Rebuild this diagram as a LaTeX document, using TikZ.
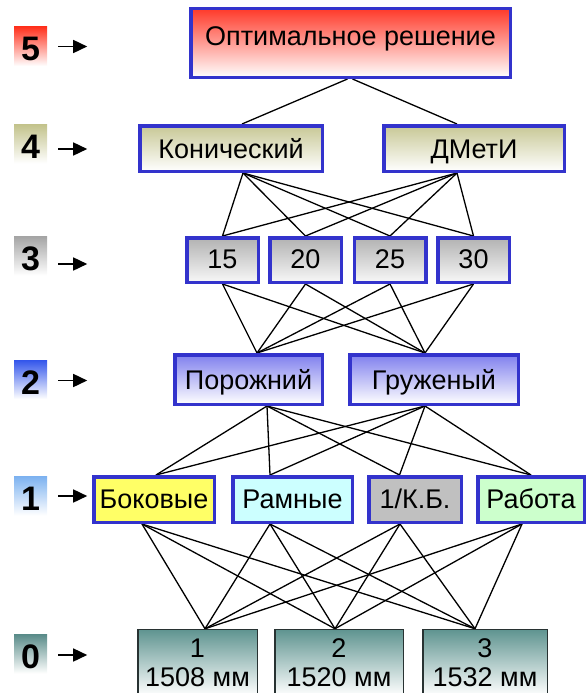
\documentclass[tikz,border=0pt]{standalone}
\usepackage{fontspec}
\setmainfont{Liberation Sans}
\usetikzlibrary{arrows.meta,backgrounds}
\definecolor{bord}{RGB}{51,51,204}
\definecolor{cfive}{RGB}{255,58,42}
\definecolor{cfour}{RGB}{200,200,150}
\definecolor{cthree}{RGB}{178,178,178}
\definecolor{ctwo}{RGB}{128,128,238}
\definecolor{czero}{RGB}{95,148,144}
\definecolor{lfive}{RGB}{255,50,30}
\definecolor{lfour}{RGB}{195,195,140}
\definecolor{lthree}{RGB}{165,165,165}
\definecolor{ltwo}{RGB}{50,85,235}
\definecolor{lone}{RGB}{125,178,240}
\definecolor{lzero}{RGB}{90,140,138}
\definecolor{fbok}{RGB}{255,255,102}
\definecolor{fram}{RGB}{204,255,255}
\definecolor{fkb}{RGB}{192,192,192}
\definecolor{frab}{RGB}{204,255,204}
\definecolor{zbord}{RGB}{40,50,50}
\begin{document}
\begin{tikzpicture}[x=1pt,y=-1pt,
  box/.style={draw=bord, line width=3.5pt, rectangle, inner sep=0pt,
    font=\fontsize{27}{30}\selectfont, text height=19.5pt, text depth=0pt},
  zbox/.style={draw=zbord, line width=1.5pt, rectangle, inner xsep=0pt, inner ysep=8.75pt,
    top color=czero, bottom color=white, align=center, anchor=north,
    font=\fontsize{27}{29}\selectfont, text height=48.5pt, text depth=0pt},
  lab/.style={rectangle, inner sep=0pt, minimum width=33pt, minimum height=39pt,
    font=\fontsize{34}{36}\selectfont\bfseries, text height=29pt, text depth=0pt},
  arr/.style={line width=1.6pt, -{Triangle[length=14pt,width=13pt]}},
  con/.style={line width=1.3pt, black}]
\useasboundingbox (0,0) rectangle (587,693);
\clip (0,0) rectangle (587,693);

% level labels
\node[lab, top color=lfive, bottom color=white] (L5) at (30.5,46.5) {5};
\node[lab, top color=lfour, bottom color=white] (L4) at (30.5,144) {4};
\node[lab, top color=lthree, bottom color=white] (L3) at (30.5,256) {3};
\node[lab, top color=ltwo, bottom color=white] (L2) at (30.5,379.5) {2};
\node[lab, top color=lone, bottom color=white] (L1) at (30.5,496) {1};
\node[lab, top color=lzero, bottom color=white] (L0) at (30.5,654) {0};
\foreach \l/\d in {L5/0,L4/-5,L3/-8,L2/-1,L1/0,L0/-1}
  \draw[arr] ([xshift=11pt,yshift=\d pt]\l.east) -- ([xshift=40pt,yshift=\d pt]\l.east);

% level 5
\node[box, top color=cfive, bottom color=white, minimum width=319.5pt, minimum height=68.5pt,
  text depth=14pt] (b5) at (350.5,43) {Оптимальное решение};
% level 4
\node[box, top color=cfour, bottom color=white, minimum width=182.5pt, minimum height=45.5pt]
  (kon) at (231,148.5) {Конический};
\node[box, top color=cfour, bottom color=white, minimum width=180.5pt, minimum height=45.5pt]
  (dmet) at (474,148.5) {ДМетИ};
% level 3
\node[box, top color=cthree, bottom color=white!97!black, minimum width=71.5pt, minimum height=44.5pt,
  text depth=3pt] (t15) at (222.5,260) {15};
\node[box, top color=cthree, bottom color=white!97!black, minimum width=71.5pt, minimum height=44.5pt,
  text depth=3pt] (t20) at (305.5,260) {20};
\node[box, top color=cthree, bottom color=white!97!black, minimum width=71.5pt, minimum height=44.5pt,
  text depth=3pt] (t25) at (390,260) {25};
\node[box, top color=cthree, bottom color=white!97!black, minimum width=71.5pt, minimum height=44.5pt,
  text depth=3pt] (t30) at (473.5,260) {30};
% level 2
\node[box, top color=ctwo, bottom color=white, minimum width=147.5pt, minimum height=49.5pt]
  (por) at (248.5,379.5) {Порожний};
\node[box, top color=ctwo, bottom color=white, minimum width=168.5pt, minimum height=49.5pt]
  (gru) at (434,379.5) {Груженый};
% level 1
\node[box, fill=fbok, minimum width=120.5pt, minimum height=45.5pt, text depth=2pt] (bok) at (154,499.5) {Боковые};
\node[box, fill=fram, minimum width=119.5pt, minimum height=45.5pt, text depth=2pt] (ram) at (292.5,499.5) {Рамные};
\node[box, fill=fkb, minimum width=92.5pt, minimum height=45.5pt, text depth=2pt] (kb) at (415,499.5) {1/К.Б.};
\node[box, fill=frab, minimum width=106.5pt, minimum height=45.5pt, text depth=2pt] (rab) at (531,499.5) {Работа};
% level 0
\node[zbox, minimum width=119.5pt] (z1) at (197.5,628.75) {1\\1508 мм};
\node[zbox, minimum width=128.5pt] (z2) at (339,628.75) {2\\1520 мм};
\node[zbox, minimum width=124.5pt] (z3) at (485,628.75) {3\\1532 мм};

% connectors (behind the boxes)
\begin{pgfonlayer}{background}
\draw[con] ([xshift=-3pt]b5.south) -- ([xshift=11pt]kon.north);
\draw[con] ([xshift=2pt]b5.south) -- ([xshift=-17pt]dmet.north);
\foreach \t in {t15,t20,t25,t30}{
  \draw[con] ([xshift=12pt]kon.south) -- (\t.north);
  \draw[con] ([xshift=-17pt]dmet.south) -- (\t.north);
  \draw[con] (\t.south) -- ([xshift=8.5pt]por.north);
  \draw[con] (\t.south) -- ([xshift=-9pt]gru.north);
}
\foreach \o/\s in {bok/2,ram/-22.5,kb/-15.5,rab/0}{
  \draw[con] ([xshift=18.5pt]por.south) -- ([xshift=\s pt]\o.north);
  \draw[con] ([xshift=-9pt]gru.south) -- ([xshift=\s pt]\o.north);
}
\foreach \o/\s in {bok/-12,ram/-22.5,kb/-15,rab/-9}{
  \draw[con] ([xshift=\s pt]\o.south) -- ([xshift=7.5pt]z1.north);
  \draw[con] ([xshift=\s pt]\o.south) -- ([xshift=-4pt]z2.north);
  \draw[con] ([xshift=\s pt]\o.south) -- ([xshift=-10pt]z3.north);
}
\end{pgfonlayer}
\end{tikzpicture}
\end{document}
